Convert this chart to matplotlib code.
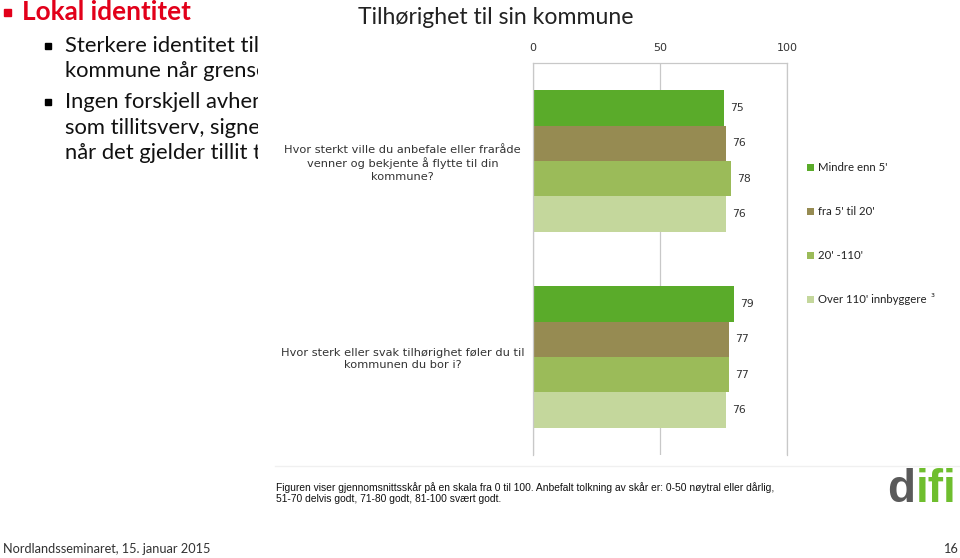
import matplotlib.pyplot as plt
from matplotlib.patches import Rectangle
import numpy as np

W, H = 960, 558

# chart data
questions = ["Hvor sterkt ville du anbefale eller fraråde\nvenner og bekjente å flytte til din\nkommune?",
             "Hvor sterk eller svak tilhørighet føler du til\nkommunen du bor i?"]
series = ["Mindre enn 5'", "fra 5' til 20'", "20' -110'", "Over 110' innbyggere"]
colors = ["#5aab2a", "#968b52", "#9bbb59", "#c4d79c"]
scores = [[75, 79],
          [76, 77],
          [78, 77],
          [76, 76]]
xticks = [0, 50, 100]

# slide text
slide_title = "Lokal identitet"
bullet_lines = [["Sterkere identitet til", "kommune når grensen"],
                ["Ingen forskjell avhengig", "som tillitsverv, signert", "når det gjelder tillit til"]]
chart_title = "Tilhørighet til sin kommune"
footnote = ("Figuren viser gjennomsnittsskår på en skala fra 0 til 100. Anbefalt tolkning av skår er: 0-50 nøytral eller dårlig,\n"
            "51-70 delvis godt, 71-80 godt, 81-100 svært godt.")
footer = "Nordlandsseminaret, 15. januar 2015"
page = "16"


def fx(x):
    return x / W


def fy(y):
    return 1 - y / H


fig = plt.figure(figsize=(9.6, 5.58), dpi=100)
fig.patch.set_facecolor("white")

# slide title + bullets (partly hidden under the chart picture)
fig.patches.append(Rectangle((fx(4), fy(16)), 7 / W, 7 / H, transform=fig.transFigure,
                             color="#e2001a", zorder=2))
fig.text(fx(22), fy(12), slide_title, fontsize=18.8, fontweight="bold", color="#e2001a",
         family="Lato", va="center", ha="left")
ys = [[46, 71], [102, 128, 153]]
for lines, yy in zip(bullet_lines, ys):
    fig.patches.append(Rectangle((fx(45), fy(yy[0] + 3)), 6 / W, 6 / H, transform=fig.transFigure,
                                 color="black", zorder=2))
    for t, y in zip(lines, yy):
        fig.text(fx(65), fy(y), t, fontsize=15.8, family="Lato", va="center", ha="left", color="#111111")

# white chart picture laid on top of the slide text
fig.patches.append(Rectangle((fx(258), fy(515)), (W - 258) / W, 515 / H, transform=fig.transFigure,
                             facecolor="white", edgecolor="none", zorder=4))

fig.text(fx(358), fy(18), chart_title, fontsize=16.6, family="Lato", color="#222222",
         va="center", ha="left", zorder=6)

ax = fig.add_axes([fx(533), fy(455), (787 - 533) / W, (455 - 63) / H])
ax.set_zorder(5)
ax.set_facecolor("none")

n = len(series)
bh = 0.181
pos = np.arange(len(questions))
for i, (name, col, vals) in enumerate(zip(series, colors, scores)):
    yb = pos + (i - (n - 1) / 2) * bh
    ax.barh(yb, vals, height=bh, color=col, label=name, zorder=2)
    for y, v in zip(yb, vals):
        ax.text(v + 2.5, y, str(v), va="center", ha="left", fontsize=7.8, color="#333333")

ax.set_xlim(0, 100)
ax.set_ylim(1.5, -0.5)
ax.set_xticks(xticks)
ax.xaxis.tick_top()
ax.tick_params(axis="x", length=0, pad=7.5, labelsize=8, labelcolor="#333333")
ax.set_yticks(pos)
ax.set_yticklabels(questions, fontsize=8.2, color="#333333", ha="center", linespacing=1.3)
ax.tick_params(axis="y", length=0, pad=94)
ax.grid(axis="x", color="#c8c8c8", lw=0.9, zorder=0)
for s in ax.spines.values():
    s.set_color("#c8c8c8")
    s.set_linewidth(0.9)
ax.spines["bottom"].set_visible(False)

leg = ax.legend(loc="upper left", bbox_to_anchor=(fx(797), fy(152)), bbox_transform=fig.transFigure,
                frameon=False, prop={"family": "Lato", "size": 8.2}, handlelength=0.6, handleheight=0.6,
                handletextpad=0.35, labelspacing=2.9)
for t in leg.get_texts():
    t.set_color("#222222")
fig.text(fx(930), fy(298), "³", fontsize=7, color="#333333", zorder=6, va="center", ha="left")

# footnote area
fig.add_artist(plt.Line2D([fx(275), fx(960)], [fy(466), fy(466)], color="#f0f0f0", lw=1, zorder=6))
fig.text(fx(276), fy(493), footnote, fontsize=7.35, family="Liberation Sans", color="#111111",
         va="center", ha="left", linespacing=1.1, zorder=6)

# difi logo
fig.text(fx(887), fy(490), "d", fontsize=33, fontweight="bold", color="#5a5a5a",
         family="Liberation Sans", va="center", ha="left", zorder=6)
fig.text(fx(916), fy(490), "ifi", fontsize=33, fontweight="bold", color="#6fbe2e",
         family="Liberation Sans", va="center", ha="left", zorder=6)

fig.text(fx(3), fy(549), footer, fontsize=9.2, family="Lato", color="#333333", va="center", ha="left")
fig.text(fx(958), fy(549), page, fontsize=9.2, family="Lato", color="#333333", va="center", ha="right")

fig.savefig("out.png", dpi=100)
